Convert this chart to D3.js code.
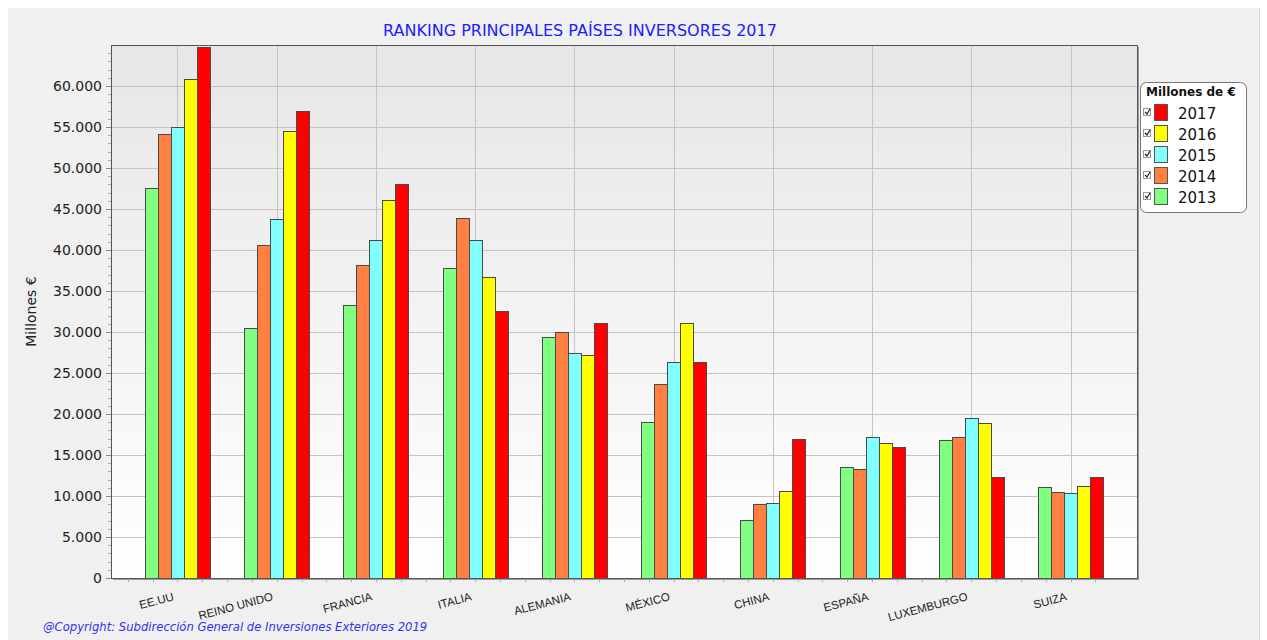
<!DOCTYPE html>
<html>
<head>
<meta charset="utf-8">
<script src="https://cdn.jsdelivr.net/npm/d3@7"></script>
<style>
  body { margin: 0; background: #fff; }
  svg { display: block; }
</style>
</head>
<body>
<div id="chart"></div>
<script>
var paises = ["EE.UU", "REINO UNIDO", "FRANCIA", "ITALIA", "ALEMANIA", "MÉXICO", "CHINA", "ESPAÑA", "LUXEMBURGO", "SUIZA"];
var anios = ["2013", "2014", "2015", "2016", "2017"];
var colores = ["#80ff80", "#ff8040", "#80ffff", "#ffff00", "#ff0000"];
var v2013 = [47600, 30450, 33350, 37750, 29450, 19000, 7050, 13550, 16800, 11100];
var v2014 = [54150, 40650, 38200, 43950, 30050, 23600, 9000, 13300, 17150, 10450];
var v2015 = [55000, 43800, 41250, 41250, 27500, 26300, 9150, 17150, 19500, 10350];
var v2016 = [60850, 54500, 46100, 36650, 27250, 31050, 10600, 16450, 18900, 11200];
var v2017 = [64700, 56950, 48050, 32600, 31050, 26400, 16950, 15950, 12300, 12300];
var yTicks = [0, 5000, 10000, 15000, 20000, 25000, 30000, 35000, 40000, 45000, 50000, 55000, 60000];

var series = [v2013, v2014, v2015, v2016, v2017];
var W = 1267, H = 640;
var pL = 111, pT = 45, pR = 1137, pB = 578;

var svg = d3.select("#chart").append("svg").attr("width", W).attr("height", H);
var defs = svg.append("defs");
var grad = defs.append("linearGradient").attr("id", "bg").attr("x1", 0).attr("y1", 0).attr("x2", 0).attr("y2", 1);
grad.append("stop").attr("offset", "0%").attr("stop-color", "#e6e6e6");
grad.append("stop").attr("offset", "100%").attr("stop-color", "#ffffff");

// outer panel
svg.append("rect").attr("x", 8).attr("y", 8).attr("width", 1251).attr("height", H - 8).attr("fill", "#f0f0f0");
svg.append("line").attr("x1", 1259.5).attr("x2", 1259.5).attr("y1", 8).attr("y2", H).attr("stroke", "#d8d8d8");

var x = d3.scalePoint().domain(paises).range([pL, pR]).padding(0.67);
var y = d3.scaleLinear().domain([0, 65000]).range([pB, pT]);
var step = x.step();
var bw = 13;

// plot background + shadow
svg.append("rect").attr("x", pL + 2).attr("y", pT + 2).attr("width", pR - pL).attr("height", pB - pT).attr("fill", "#9a9a9a");
svg.append("rect").attr("x", pL).attr("y", pT).attr("width", pR - pL).attr("height", pB - pT).attr("fill", "url(#bg)");

// grid
var g = svg.append("g");
g.selectAll(".hg").data(yTicks.slice(1)).enter().append("line")
  .attr("x1", pL).attr("x2", pR)
  .attr("y1", d => Math.round(y(d)) + 0.5).attr("y2", d => Math.round(y(d)) + 0.5)
  .attr("stroke", "#c4c4c4");
g.selectAll(".vg").data(paises).enter().append("line")
  .attr("x1", d => Math.round(x(d)) + 0.5).attr("x2", d => Math.round(x(d)) + 0.5)
  .attr("y1", pT).attr("y2", pB)
  .attr("stroke", "#c4c4c4");

// bars
series.forEach(function (vals, i) {
  svg.append("g").selectAll("rect").data(vals).enter().append("rect")
    .attr("x", (d, j) => Math.round(x(paises[j]) - 2.5 * bw + i * bw) + 0.5)
    .attr("y", d => Math.round(y(d)) + 0.5)
    .attr("width", bw)
    .attr("height", d => pB - Math.round(y(d)))
    .attr("fill", colores[i])
    .attr("stroke", "#4a4a4a")
    .attr("stroke-width", 1);
});

// plot border
svg.append("rect").attr("x", pL + 0.5).attr("y", pT + 0.5).attr("width", pR - pL).attr("height", pB - pT)
  .attr("fill", "none").attr("stroke", "#555");

// y axis
var yAxis = svg.append("g").attr("transform", "translate(" + pL + ",0)")
  .call(d3.axisLeft(y).tickValues(yTicks).tickSize(5).tickFormat(d => d === 0 ? "0" : d3.format(",")(d).replace(/,/g, ".")));
yAxis.select(".domain").remove();
yAxis.selectAll("line").attr("stroke", "#888");
yAxis.selectAll("text").attr("font-family", "DejaVu Sans").attr("font-size", 14).attr("fill", "#222").attr("x", -9);
var minorY = d3.range(1000, 65000, 1000).filter(d => d % 5000 !== 0);
svg.append("g").selectAll("line").data(minorY).enter().append("line")
  .attr("x1", pL - 3).attr("x2", pL)
  .attr("y1", d => Math.round(y(d)) + 0.5).attr("y2", d => Math.round(y(d)) + 0.5)
  .attr("stroke", "#aaa");

// x axis ticks (quarter steps)
var xMinor = [];
paises.forEach(function (p) { for (var k = -2; k <= 1; k++) xMinor.push(x(p) + k * step / 4); });
svg.append("g").selectAll("line").data(xMinor).enter().append("line")
  .attr("x1", d => Math.round(d) + 0.5).attr("x2", d => Math.round(d) + 0.5)
  .attr("y1", pB + 1).attr("y2", pB + 4)
  .attr("stroke", "#aaa");

svg.append("g").selectAll("text").data(paises).enter().append("text")
  .attr("transform", d => "translate(" + (x(d) - 3) + "," + (pB + 22) + ") rotate(-15)")
  .attr("text-anchor", "end")
  .attr("font-family", "Liberation Sans")
  .attr("font-size", 11.5)
  .attr("fill", "#222")
  .text(d => d);

// y label
svg.append("text").attr("transform", "translate(36," + (pT + (pB - pT) / 2) + ") rotate(-90)")
  .attr("text-anchor", "middle").attr("font-family", "DejaVu Sans").attr("font-size", 14).attr("fill", "#222")
  .text("Millones €");

// title
svg.append("text").attr("x", 580).attr("y", 36).attr("text-anchor", "middle")
  .attr("font-family", "DejaVu Sans").attr("font-size", 16).attr("fill", "#1c1cff")
  .text("RANKING PRINCIPALES PAÍSES INVERSORES 2017");

// copyright
svg.append("text").attr("x", 43).attr("y", 631)
  .attr("font-family", "DejaVu Sans").attr("font-style", "italic").attr("font-size", 11.6).attr("fill", "#3333ee")
  .text("@Copyright: Subdirección General de Inversiones Exteriores 2019");

// legend
var lg = svg.append("g").attr("transform", "translate(1140,82)");
lg.append("rect").attr("x", 0.5).attr("y", 0.5).attr("width", 106).attr("height", 130).attr("rx", 6)
  .attr("fill", "#fff").attr("stroke", "#777");
lg.append("text").attr("x", 6).attr("y", 14).attr("font-family", "DejaVu Sans").attr("font-weight", "bold")
  .attr("font-size", 12).attr("fill", "#111").text("Millones de €");
var items = anios.slice().reverse();
var itemCols = colores.slice().reverse();
var it = lg.selectAll(".it").data(items).enter().append("g")
  .attr("transform", (d, i) => "translate(0," + (31 + i * 21) + ")");
it.append("rect").attr("x", 3.5).attr("y", -4.5).attr("width", 7).attr("height", 7).attr("fill", "#fff").attr("stroke", "#999");
it.append("path").attr("d", "M5,-1 L7,1 L10,-4").attr("fill", "none").attr("stroke", "#222").attr("stroke-width", 1.2);
it.append("rect").attr("x", 14.5).attr("y", -8.5).attr("width", 13).attr("height", 16)
  .attr("fill", (d, i) => itemCols[i]).attr("stroke", "#555");
it.append("text").attr("x", 38).attr("y", 6).attr("font-family", "DejaVu Sans").attr("font-size", 15)
  .attr("fill", "#111").text(d => d);
</script>
</body>
</html>
